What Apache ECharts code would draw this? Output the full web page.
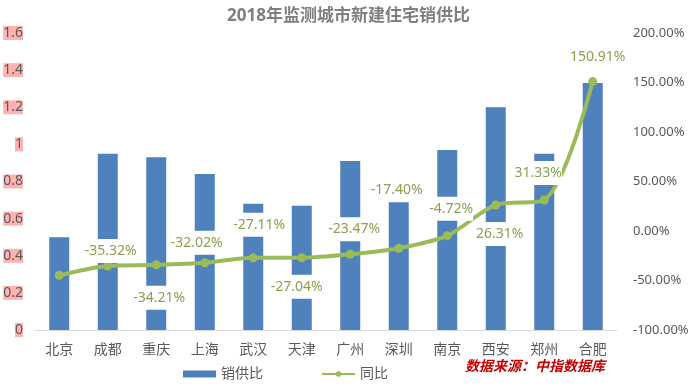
<!DOCTYPE html>
<html><head><meta charset="utf-8">
<script src="https://cdn.jsdelivr.net/npm/echarts@6/dist/echarts.min.js"></script>
<style>html,body{margin:0;padding:0;background:#fff}#c{width:697px;height:388px}</style>
</head><body><div id="c"></div>
<script>
const cities = ['北京','成都','重庆','上海','武汉','天津','广州','深圳','南京','西安','郑州','合肥'];
const ratio = [0.50,0.95,0.93,0.84,0.68,0.67,0.91,0.69,0.97,1.20,0.95,1.33];
const yoy = [-44.81,-35.32,-34.21,-32.02,-27.11,-27.04,-23.47,-17.40,-4.72,26.31,31.33,150.91];
const leftTicks = {min:0, max:1.6, interval:0.2};
const rightTicks = {min:-100, max:200, interval:50};
// label placement offsets (style only)
const labelOffsets = [[-3,24],[3,-15],[3,33],[-8,-20],[6,-33],[-5,29],[4,-25],[-2,-58],[4,-27],[4,29],[-6,-27],[5,-25]];

const chart = echarts.init(document.getElementById('c'));
const font = '"Noto Sans", "Noto Sans CJK SC", sans-serif';
chart.setOption({
  textStyle:{fontFamily:font},
  title:{text:'2018年监测城市新建住宅销供比', left:'center', top:3,
    textStyle:{fontSize:17, fontWeight:'bold', color:'#7f7f7f', fontFamily:font}},
  grid:{left:35, right:80, top:33, bottom:58},
  legend:{bottom:2, left:178, itemWidth:33, itemHeight:7, itemGap:58,
    textStyle:{fontSize:14, color:'#595959'},
    data:[{name:'销供比', icon:'rect'},{name:'同比'}]},
  graphic:[{type:'text', left:465, top:359, z:10,
    style:{text:'数据来源：中指数据库', fill:'#c00000', font:'italic bold 14px "Noto Sans CJK SC", sans-serif'}}],
  xAxis:{type:'category', data:cities,
    axisLine:{lineStyle:{color:'#d9d9d9', width:1}}, axisTick:{show:false},
    axisLabel:{fontSize:14, color:'#595959', margin:13}},
  yAxis:[
    {type:'value', min:leftTicks.min, max:leftTicks.max, interval:leftTicks.interval,
      splitLine:{show:false}, axisLine:{show:false}, axisTick:{show:false},
      axisLabel:{fontSize:14, color:'#595959', margin:12, backgroundColor:'rgba(255,0,0,0.3)',
        formatter:v=>(Math.round(v*10)/10).toString()}},
    {type:'value', min:rightTicks.min, max:rightTicks.max, interval:rightTicks.interval,
      splitLine:{show:false}, axisLine:{show:false}, axisTick:{show:false},
      axisLabel:{fontSize:13, color:'#595959', margin:16,
        formatter:v=>v.toFixed(2)+'%'}}
  ],
  series:[
    {name:'销供比', type:'bar', data:ratio, barWidth:20, itemStyle:{color:'#4f81bd'}, z:1},
    {name:'同比', type:'line', yAxisIndex:1, smooth:0.3, symbol:'circle', symbolSize:9, z:3,
      lineStyle:{color:'#9bbb59', width:4}, itemStyle:{color:'#9bbb59'},
      data:yoy.map((v,i)=>({value:v, label:{offset:labelOffsets[i], show:i!==0}})),
      label:{show:true, position:'inside', fontSize:14, color:'#8a9f4f',
        backgroundColor:'#fff', padding:[5,0],
        formatter:p=>p.value.toFixed(2)+'%'}}
  ]
});
</script></body></html>
